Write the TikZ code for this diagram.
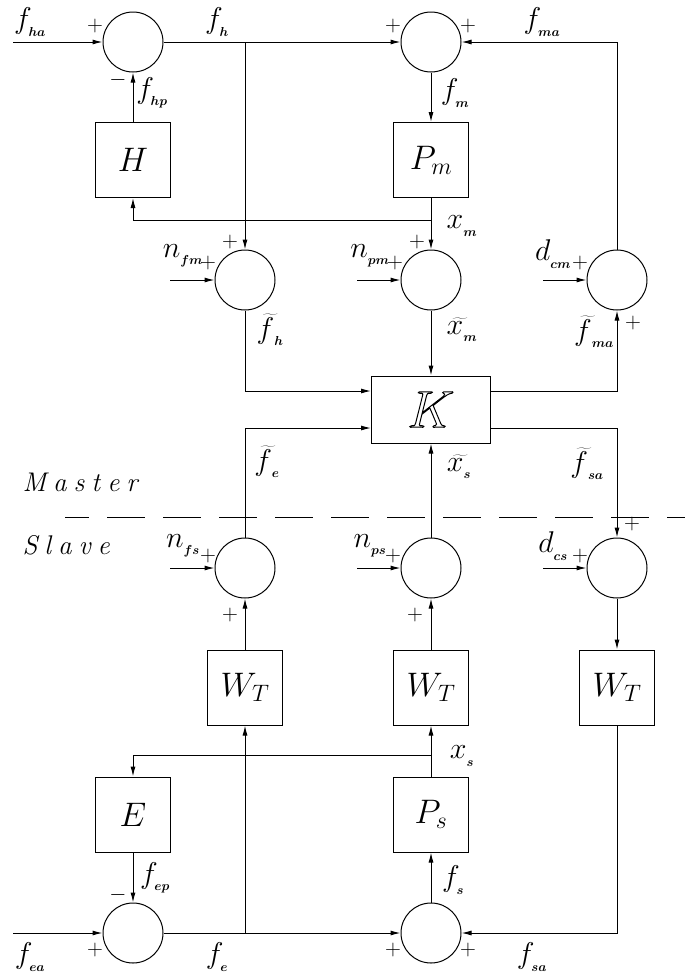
\RequirePackage{fix-cm}
\documentclass[tikz,border=0pt]{standalone}
\usepackage{fontspec}
\usetikzlibrary{arrows.meta,calc}

% small, lowered bold subscript used in the signal names
\newcommand{\lsub}[1]{\mbox{\raisebox{-3pt}{\fontsize{13}{13}\selectfont\boldmath$#1$}}}
% symbol with a wide tilde, subscript kept close to the letter
\newcommand{\wt}[2]{\widetilde{#1\mkern6mu}\mkern-6mu{}_{\lsub{#2}}}
% widely spaced word for the side captions
\newcommand{\wide}[1]{\def\wsep{\kern7pt}\wideloop#1\relax}
\def\wideloop#1#2{#1\ifx#2\relax\else\wsep\expandafter\wideloop\expandafter#2\fi}

\tikzset{
  sumj/.style={circle,draw,minimum size=60pt,inner sep=0pt},
  blk/.style={rectangle,draw,minimum width=75pt,minimum height=75pt,inner sep=0pt,
              font=\fontsize{34}{34}\selectfont},
  sig/.style={inner sep=0pt,font=\fontsize{30}{30}\selectfont},
  sgn/.style={inner sep=0pt,font=\fontsize{22}{22}\selectfont},
  side/.style={inner sep=0pt,anchor=west,
               font=\fontsize{27}{27}\selectfont\itshape},
  flow/.style={-{Latex[length=10pt,width=5pt]}},
}

\begin{document}
\begin{tikzpicture}[x=1pt,y=-1pt,line width=1pt]
\useasboundingbox (0,0) rectangle (700,975);

% ---------- master side ----------
\node[sumj] (S1) at (133,42) {};
\node[sumj] (S2) at (431,42) {};
\node[blk]  (H)  at (133,160) {$H$};
\node[blk]  (Pm) at (431,160) {$P_m$};
\node[sumj] (S3) at (245,280) {};
\node[sumj] (S4) at (431,280) {};
\node[sumj] (S5) at (617,280) {};
\node[draw,minimum width=119pt,minimum height=67pt,inner sep=0pt,
      font=\fontsize{52}{52}\selectfont] (K) at (431,409.5)
      {\special{pdf:literal direct 1 Tr}$K$\special{pdf:literal direct 0 Tr}};

% ---------- slave side ----------
\node[sumj] (S6) at (245,568) {};
\node[sumj] (S7) at (431,568) {};
\node[sumj] (S8) at (617,568) {};
\node[blk]  (WT1) at (245,687.5) {$W_T$};
\node[blk]  (WT2) at (431,687.5) {$W_T$};
\node[blk]  (WT3) at (617,687.5) {$W_T$};
\node[blk]  (E)  at (133,814.5) {$E$};
\node[blk]  (Ps) at (431,814.5) {$P_s$};
\node[sumj] (S9)  at (133,933) {};
\node[sumj] (S10) at (431,933) {};

% free ends and branch points
\coordinate (fha) at (13,42);
\coordinate (fea) at (13,933);
\coordinate (nfm) at (170,280);
\coordinate (npm) at (357,280);
\coordinate (dcm) at (543,280);
\coordinate (nfs) at (170,568);
\coordinate (nps) at (357,568);
\coordinate (dcs) at (543,568);
\coordinate (jxm) at (431,220);
\coordinate (jxs) at (431,755);
\coordinate (Kin1)  at ($(K.west)+(0,-18.5)$);
\coordinate (Kin2)  at ($(K.west)+(0,18.5)$);
\coordinate (Kout1) at ($(K.east)+(0,-18.5)$);
\coordinate (Kout2) at ($(K.east)+(0,18.5)$);
\coordinate (dl) at (65,517);
\coordinate (dr) at (685,517);

% master connections
\draw[flow] (fha) -- (S1.west);
\draw[flow] (S1.east) -- (S2.west);
\draw[flow] (S3 |- S1) -- (S3.north);
\draw[flow] (S5.north) |- (S2.east);
\draw[flow] (S2.south) -- (Pm.north);
\draw[flow] (Pm.south) -- (S4.north);
\draw[flow] (jxm) -| (H.south);
\draw[flow] (H.north) -- (S1.south);
\draw[flow] (nfm) -- (S3.west);
\draw[flow] (npm) -- (S4.west);
\draw[flow] (dcm) -- (S5.west);
\draw[flow] (S3.south) |- (Kin1);
\draw[flow] (S4.south) -- (K.north);
\draw[flow] (Kout1) -| (S5.south);

% slave connections
\draw[flow] (S6.north) |- (Kin2);
\draw[flow] (S7.north) -- (K.south);
\draw[flow] (Kout2) -| (S8.north);
\draw[flow] (nfs) -- (S6.west);
\draw[flow] (nps) -- (S7.west);
\draw[flow] (dcs) -- (S8.west);
\draw[flow] (WT1.north) -- (S6.south);
\draw[flow] (WT2.north) -- (S7.south);
\draw[flow] (S8.south) -- (WT3.north);
\draw[flow] (Ps.north) -- (WT2.south);
\draw[flow] (jxs) -| (E.north);
\draw[flow] (E.south) -- (S9.north);
\draw[flow] (fea) -- (S9.west);
\draw[flow] (S9.east) -- (S10.west);
\draw[flow] (WT1 |- S9) -- (WT1.south);
\draw[flow] (S10.north) -- (Ps.south);
\draw[flow] (WT3.south) |- (S10.east);

% master / slave border
\draw[dash pattern=on 38pt off 18pt,dash phase=14pt] (dl) -- (dr);
\node[side] (lm) at (22,482) {\wide{Master}};
\node[side] (ls) at (22,545) {\wide{Slave}};

% signal names
\node[sig] (tfha) at (30,22)  {$f_{\lsub{ha}}$};
\node[sig] (tfh)  at (217,22) {$f_{\lsub{h}}$};
\node[sig] (tfma) at (542,22) {$f_{\lsub{ma}}$};
\node[sig] (tfhp) at (152,93) {$f_{\lsub{hp}}$};
\node[sig] (tfm)  at (455,93) {$f_{\lsub{m}}$};
\node[sig] (txm)  at (462,226) {$x_{\lsub{m}}$};
\node[sig] (tnfm) at (183,256) {$n_{\lsub{fm}}$};
\node[sig] (tnpm) at (370,256) {$n_{\lsub{pm}}$};
\node[sig] (tdcm) at (553,254) {$d_{\lsub{cm}}$};
\node[sig] (tfht) at (270,330) {$\wt{f}{h}$};
\node[sig] (txmt) at (462,330) {$\wt{x}{m}$};
\node[sig] (tfmat) at (594,332) {$\wt{f}{ma}$};
\node[sig] (tfet) at (267,462) {$\wt{f}{e}$};
\node[sig] (txst) at (459,467) {$\wt{x}{s}$};
\node[sig] (tfsat) at (587,464) {$\wt{f}{sa}$};
\node[sig] (tnfs) at (183,546) {$n_{\lsub{fs}}$};
\node[sig] (tnps) at (370,546) {$n_{\lsub{ps}}$};
\node[sig] (tdcs) at (553,546) {$d_{\lsub{cs}}$};
\node[sig] (txs)  at (462,756) {$x_{\lsub{s}}$};
\node[sig] (tfep) at (155,878) {$f_{\lsub{ep}}$};
\node[sig] (tfs)  at (453,880) {$f_{\lsub{s}}$};
\node[sig] (tfea) at (30,957) {$f_{\lsub{ea}}$};
\node[sig] (tfe)  at (217,957) {$f_{\lsub{e}}$};
\node[sig] (tfsa) at (532,957) {$f_{\lsub{sa}}$};

% signs at the summing junctions
\node[sgn] at (95,26)   {$+$};
\node[sgn] at (118,80)  {$-$};
\node[sgn] at (393,26)  {$+$};
\node[sgn] at (468,26)  {$+$};
\node[sgn] at (230,242) {$+$};
\node[sgn] at (208,263) {$+$};
\node[sgn] at (417,242) {$+$};
\node[sgn] at (395,263) {$+$};
\node[sgn] at (580,263) {$+$};
\node[sgn] at (633,323) {$+$};
\node[sgn] at (208,556) {$+$};
\node[sgn] at (230,615) {$+$};
\node[sgn] at (393,556) {$+$};
\node[sgn] at (415,615) {$+$};
\node[sgn] at (580,556) {$+$};
\node[sgn] at (632,524) {$+$};
\node[sgn] at (118,895) {$-$};
\node[sgn] at (95,950)  {$+$};
\node[sgn] at (393,950) {$+$};
\node[sgn] at (468,950) {$+$};
\end{tikzpicture}
\end{document}
